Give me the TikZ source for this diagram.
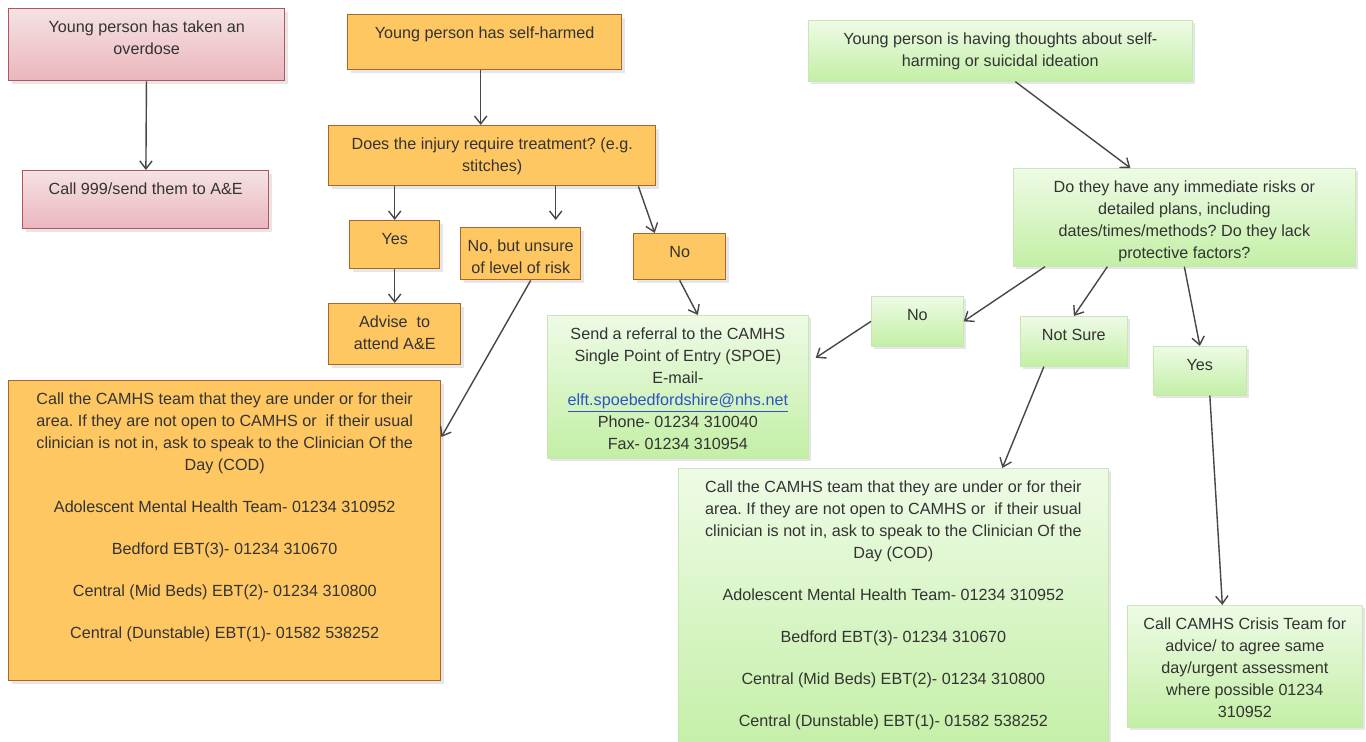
\documentclass[tikz,border=0pt]{standalone}
\usepackage{fontspec}
\setmainfont{Liberation Sans}
\usetikzlibrary{arrows.meta,shadows}

\definecolor{pinktop}{HTML}{F5E2E4}
\definecolor{pinkbottom}{HTML}{EBB6BD}
\definecolor{pinkline}{HTML}{B5535F}
\definecolor{orangefill}{HTML}{FFC761}
\definecolor{orangeline}{HTML}{A9652C}
\definecolor{greentop}{HTML}{EEFBE6}
\definecolor{greenbottom}{HTML}{C3EFA5}
\definecolor{greenline}{HTML}{C9E6B5}
\definecolor{linkblue}{HTML}{2B54C8}
\definecolor{inkgray}{HTML}{333333}

% one pixel of the page
\newlength{\pxunit}
\setlength{\pxunit}{0.02cm}
% box text: width, height (in px), lines set from the top
\newcommand{\boxtext}[3]{\parbox[c][#2\pxunit][t]{#1\pxunit}{\centering\frenchspacing\rule{0pt}{13.8pt}#3\par}}

\begin{document}
\begin{tikzpicture}[
        x=0.02cm, y=-0.02cm,
        font=\fontsize{9.2}{12.5}\selectfont,
        text=inkgray,
        flow box/.style={anchor=north west, inner sep=0pt, line width=0.8pt,
            drop shadow={shadow xshift=1.6pt, shadow yshift=-1.6pt, opacity=0.2}},
        pink box/.style={flow box, draw=pinkline, top color=pinktop, bottom color=pinkbottom},
        orange box/.style={flow box, draw=orangeline, fill=orangefill},
        green box/.style={flow box, draw=greenline, line width=0.4pt, top color=greentop, bottom color=greenbottom},
        flow arrow/.style={draw=inkgray!90, line width=0.8pt, -{Straight Barb[length=4.5pt, width=7pt]}},
    ]

    \useasboundingbox (0,0) rectangle (1366,742);

    % Overdose branch
    \node[pink box] (overdose) at (8,8) {\boxtext{276}{72}{Young person has taken an\\overdose}};
    \node[pink box] (call999) at (22,170) {\boxtext{246}{58}{Call 999/send them to A\&E}};

    % Self-harm branch
    \node[orange box] (selfharm) at (347,14) {\boxtext{274}{55}{Young person has self-harmed}};
    \node[orange box] (injury) at (328,125) {\boxtext{327}{60}{Does the injury require treatment? (e.g.\\stitches)}};
    \node[orange box] (yes) at (349,220) {\boxtext{90}{48}{Yes}};
    \node[orange box] (nobut) at (460,227) {\boxtext{120}{52}{No, but unsure\\of level of risk}};
    \node[orange box] (no) at (633,233) {\boxtext{92}{46}{No}};
    \node[orange box] (advise) at (328,303) {\boxtext{132}{61}{Advise\ \ to\\attend A\&E}};
    \node[orange box] (callteam) at (8,380) {\boxtext{432}{300}{%
        Call the CAMHS team that they are under or for their\\
        area. If they are not open to CAMHS or\ \ if their usual\\
        clinician is not in, ask to speak to the Clinician Of the\\
        Day (COD)\\[11.4pt]
        Adolescent Mental Health Team- 01234 310952\\[11.4pt]
        Bedford EBT(3)- 01234 310670\\[11.4pt]
        Central (Mid Beds) EBT(2)- 01234 310800\\[11.4pt]
        Central (Dunstable) EBT(1)- 01582 538252}};

    % Thoughts branch
    \node[green box] (spoe) at (547,315) {\boxtext{261}{143}{%
        Send a referral to the CAMHS\\
        Single Point of Entry (SPOE)\\
        E-mail-\\
        {\color{linkblue}\underline{elft.spoebedfordshire@nhs.net}}\\
        Phone- 01234 310040\\
        Fax- 01234 310954}};
    \node[green box] (thoughts) at (808,20) {\boxtext{384}{61}{Young person is having thoughts about self-\\harming or suicidal ideation}};
    \node[green box] (risks) at (1013,168) {\boxtext{342}{98}{%
        Do they have any immediate risks or\\
        detailed plans, including\\
        dates/times/methods? Do they lack\\
        protective factors?}};
    \node[green box] (nogreen) at (871,296) {\boxtext{92}{50}{No}};
    \node[green box] (notsure) at (1020,316) {\boxtext{107}{50}{Not Sure}};
    \node[green box] (yesgreen) at (1153,346) {\boxtext{93}{49}{Yes}};
    \node[green box] (callteamb) at (678,468) {\boxtext{430}{290}{%
        Call the CAMHS team that they are under or for their\\
        area. If they are not open to CAMHS or\ \ if their usual\\
        clinician is not in, ask to speak to the Clinician Of the\\
        Day (COD)\\[11.4pt]
        Adolescent Mental Health Team- 01234 310952\\[11.4pt]
        Bedford EBT(3)- 01234 310670\\[11.4pt]
        Central (Mid Beds) EBT(2)- 01234 310800\\[11.4pt]
        Central (Dunstable) EBT(1)- 01582 538252}};
    \node[green box] (crisis) at (1127,605) {\boxtext{235}{122}{%
        Call CAMHS Crisis Team for\\
        advice/ to agree same\\
        day/urgent assessment\\
        where possible 01234\\
        310952}};

    % Connectors
    \draw[flow arrow] (overdose) -- (call999);
    \draw[flow arrow] ([xshift=-0.08cm]selfharm.south) -- ([xshift=-0.08cm]selfharm.south |- injury.north);
    \draw[flow arrow] (injury.south -| yes.north) -- (yes.north);
    \draw[flow arrow] ([xshift=0.7cm]injury.south -| nobut.north) -- ([xshift=0.7cm, yshift=0.14cm]nobut.north);
    \draw[flow arrow] ([xshift=-0.36cm]injury.south east) -- ([xshift=-0.5cm]no.north);
    \draw[flow arrow] (yes) -- (advise);
    \draw[flow arrow] ([xshift=0.2cm]nobut.south) -- ([yshift=-1.14cm]callteam.north east);
    \draw[flow arrow] (no.south) -- ([xshift=0.4cm]spoe.north);
    \draw[flow arrow] ([xshift=0.3cm]thoughts.south) -- ([xshift=-1.08cm]risks.north);
    \draw[flow arrow] ([xshift=0.64cm]risks.south west) -- (nogreen.east);
    \draw[flow arrow] ([xshift=-1.54cm]risks.south) -- (notsure.north);
    \draw[flow arrow] (risks.south) -- (yesgreen.north);
    \draw[flow arrow] (nogreen.west) -- ([xshift=0.14cm, yshift=0.58cm]spoe.east);
    \draw[flow arrow] ([xshift=-0.6cm]notsure.south) -- ([xshift=2.18cm]callteamb.north);
    \draw[flow arrow] ([xshift=0.2cm]yesgreen.south) -- ([xshift=-0.45cm]crisis.north);

\end{tikzpicture}
\end{document}
